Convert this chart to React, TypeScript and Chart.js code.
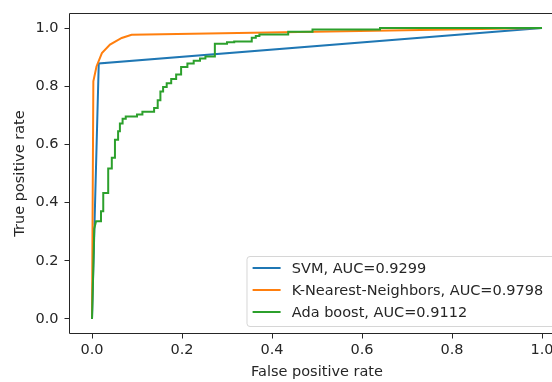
import React, { useEffect, useRef } from 'react';
import { Chart, registerables } from 'chart.js';

Chart.register(...registerables);

const seriesLabels = ['SVM, AUC=0.9299', 'K-Nearest-Neighbors, AUC=0.9798', 'Ada boost, AUC=0.9112'];
const seriesColors = ['#1f77b4', '#ff7f0e', '#2ca02c'];

const svmFpr = [0, 0.015, 1];
const svmTpr = [0, 0.878, 1];

const knnFpr = [0, 0.003, 0.010, 0.022, 0.040, 0.066, 0.088, 1];
const knnTpr = [0, 0.817, 0.868, 0.914, 0.943, 0.966, 0.977, 1];

const adaFpr = [
  0, 0.005, 0.009, 0.020, 0.020, 0.025, 0.025, 0.036, 0.036, 0.044, 0.044, 0.051, 0.051, 0.058, 0.058,
  0.062, 0.062, 0.068, 0.068, 0.075, 0.075, 0.100, 0.100, 0.112, 0.112, 0.138, 0.138, 0.146, 0.146,
  0.152, 0.152, 0.158, 0.158, 0.166, 0.166, 0.176, 0.176, 0.187, 0.187, 0.198, 0.198, 0.212, 0.212,
  0.226, 0.226, 0.240, 0.240, 0.252, 0.252, 0.273, 0.273, 0.300, 0.300, 0.316, 0.316, 0.355, 0.355,
  0.364, 0.364, 0.372, 0.372, 0.436, 0.436, 0.490, 0.490, 0.640, 0.640, 1,
];
const adaTpr = [
  0, 0.310, 0.336, 0.336, 0.370, 0.370, 0.433, 0.433, 0.517, 0.517, 0.554, 0.554, 0.616, 0.616, 0.645,
  0.645, 0.672, 0.672, 0.688, 0.688, 0.696, 0.696, 0.703, 0.703, 0.712, 0.712, 0.725, 0.725, 0.752,
  0.752, 0.782, 0.782, 0.797, 0.797, 0.810, 0.810, 0.825, 0.825, 0.840, 0.840, 0.866, 0.866, 0.878,
  0.878, 0.888, 0.888, 0.895, 0.895, 0.902, 0.902, 0.946, 0.946, 0.951, 0.951, 0.954, 0.954, 0.967,
  0.967, 0.973, 0.973, 0.978, 0.978, 0.987, 0.987, 0.995, 0.995, 1.0, 1,
];

const xTicks = [0, 0.2, 0.4, 0.6, 0.8, 1.0];
const yTicks = [0, 0.2, 0.4, 0.6, 0.8, 1.0];
const xTitle = 'False positive rate';
const yTitle = 'True positive rate';

const FONT = '"DejaVu Sans", sans-serif';
const FS = 14.5;
const TEXT = '#262626';

const toPoints = (xs: number[], ys: number[]) => xs.map((x, i) => ({ x, y: ys[i] }));

const decorPlugin = {
  id: 'decor',
  afterDatasetsDraw(chart: any) {
    const { ctx, chartArea } = chart;
    ctx.save();
    ctx.strokeStyle = TEXT;
    ctx.lineWidth = 1;
    ctx.beginPath();
    ctx.moveTo(chartArea.right + 20, chartArea.top);
    ctx.lineTo(chartArea.left, chartArea.top);
    ctx.lineTo(chartArea.left, chartArea.bottom);
    ctx.lineTo(chartArea.right + 20, chartArea.bottom);
    ctx.stroke();
    ctx.restore();
  },
  afterDraw(chart: any) {
    const { ctx, chartArea } = chart;
    const xs = chart.scales.x;
    const ys = chart.scales.y;
    ctx.save();
    ctx.font = `${FS}px ${FONT}`;
    ctx.fillStyle = TEXT;
    ctx.textAlign = 'center';
    ctx.textBaseline = 'middle';
    // axis titles
    ctx.fillText(xTitle, xs.getPixelForValue(0.5), 372);
    ctx.save();
    ctx.translate(20, ys.getPixelForValue(0.5));
    ctx.rotate(-Math.PI / 2);
    ctx.fillText(yTitle, 0, 0);
    ctx.restore();

    // legend
    const left = 247;
    const bottom = chartArea.bottom - 7;
    const top = bottom - 70;
    const right = 600;
    const r = 3;
    ctx.beginPath();
    ctx.moveTo(left + r, top);
    ctx.lineTo(right, top);
    ctx.lineTo(right, bottom);
    ctx.lineTo(left + r, bottom);
    ctx.arcTo(left, bottom, left, bottom - r, r);
    ctx.lineTo(left, top + r);
    ctx.arcTo(left, top, left + r, top, r);
    ctx.closePath();
    ctx.fillStyle = 'rgba(255,255,255,0.8)';
    ctx.fill();
    ctx.strokeStyle = 'rgba(204,204,204,0.8)';
    ctx.lineWidth = 1;
    ctx.stroke();

    ctx.textAlign = 'left';
    chart.data.datasets.forEach((ds: any, i: number) => {
      const y = top + 11.5 + i * 22;
      ctx.strokeStyle = ds.borderColor;
      ctx.lineWidth = 2;
      ctx.beginPath();
      ctx.moveTo(left + 5.6, y);
      ctx.lineTo(left + 5.6 + 28, y);
      ctx.stroke();
      ctx.fillStyle = TEXT;
      ctx.fillText(ds.label, left + 5.6 + 28 + 11.2, y + 1);
    });
    ctx.restore();
  },
};

export default function App() {
  const canvasRef = useRef<HTMLCanvasElement | null>(null);

  useEffect(() => {
    if (!canvasRef.current) return;
    const series = [toPoints(svmFpr, svmTpr), toPoints(knnFpr, knnTpr), toPoints(adaFpr, adaTpr)];
    const chart = new Chart(canvasRef.current, {
      type: 'line',
      data: {
        datasets: series.map((data, i) => ({
          label: seriesLabels[i],
          data,
          borderColor: seriesColors[i],
          backgroundColor: seriesColors[i],
          borderWidth: 2,
          pointRadius: 0,
          tension: 0,
          fill: false,
          order: 2 - i,
        })),
      },
      options: {
        animation: false,
        responsive: false,
        maintainAspectRatio: false,
        layout: { padding: { left: 0, top: 13.5, right: 0, bottom: 0 } },
        plugins: { legend: { display: false }, tooltip: { enabled: false } },
        scales: {
          x: {
            type: 'linear',
            min: -0.05,
            max: 1.0222,
            afterBuildTicks: (axis: any) => {
              axis.ticks = xTicks.map((v) => ({ value: v }));
            },
            afterFit: (scale: any) => {
              scale.height = 48.5;
              scale.paddingLeft = 0;
              scale.paddingRight = 0;
            },
            grid: { drawOnChartArea: false, drawTicks: true, tickLength: 5, color: TEXT, lineWidth: 1 },
            border: { display: false },
            ticks: {
              color: TEXT,
              font: { family: FONT, size: FS },
              padding: 3.2,
              maxRotation: 0,
              autoSkip: false,
              callback: (v: any) => Number(v).toFixed(1),
            },
          },
          y: {
            type: 'linear',
            min: -0.05,
            max: 1.05,
            afterBuildTicks: (axis: any) => {
              axis.ticks = yTicks.map((v) => ({ value: v }));
            },
            afterFit: (scale: any) => {
              scale.width = 69.5;
              scale.paddingTop = 0;
              scale.paddingBottom = 0;
            },
            grid: { drawOnChartArea: false, drawTicks: true, tickLength: 5, color: TEXT, lineWidth: 1 },
            border: { display: false },
            ticks: {
              color: TEXT,
              font: { family: FONT, size: FS },
              padding: 6,
              autoSkip: false,
              callback: (v: any) => Number(v).toFixed(1),
            },
          },
        },
      },
      plugins: [decorPlugin],
    });
    return () => chart.destroy();
  }, []);

  return (
    <div style={{ position: 'absolute', left: 0, top: 0, width: 552, height: 382, background: '#fff' }}>
      <canvas ref={canvasRef} width={552} height={382} style={{ display: 'block' }} />
    </div>
  );
}
